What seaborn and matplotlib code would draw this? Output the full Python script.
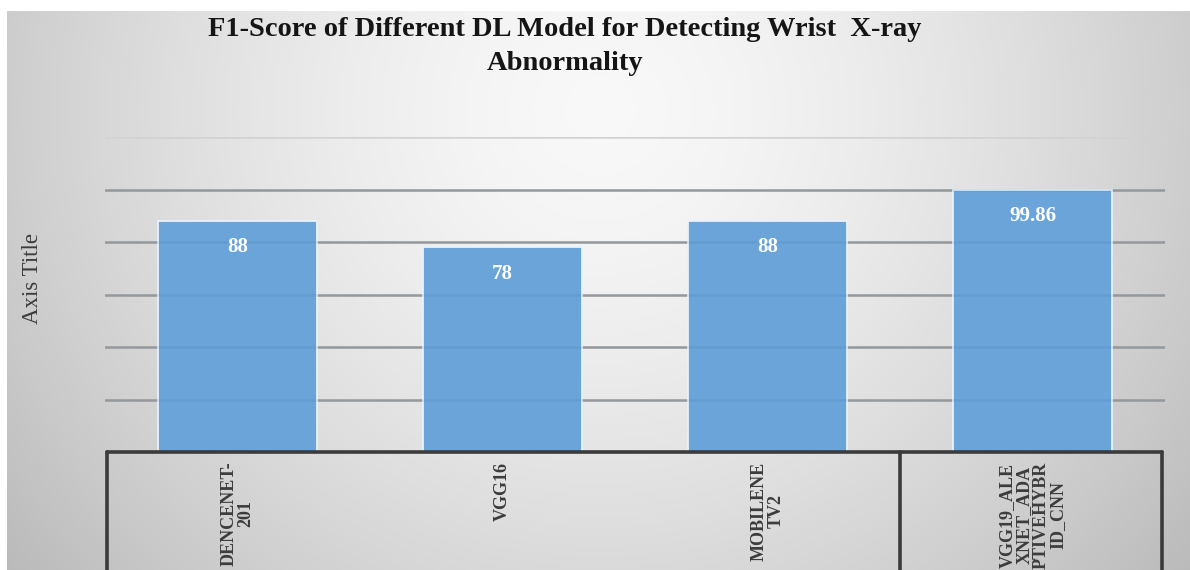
import numpy as np
import matplotlib
matplotlib.use("Agg")
import matplotlib.pyplot as plt
from matplotlib.lines import Line2D
import seaborn as sns

models = ["DENCENET-\n201", "VGG16", "MOBILENE\nTV2", "VGG19_ALE\nXNET_ADA\nPTIVEHYBR\nID_CNN"]
f1_scores = [88, 78, 88, 99.86]
value_labels = ["88", "78", "88", "99.86"]
y_ticks = [0, 20, 40, 60, 80, 100, 120]

sns.set_theme(style="white")
plt.rcParams["font.family"] = ["Liberation Serif", "DejaVu Serif"]

W, H = 1190, 570
fig = plt.figure(figsize=(W / 100, H / 100), dpi=100, facecolor="white")

# soft grey backdrop, lighter towards the upper middle
bg = fig.add_axes([7 / W, 0, 1 - 7 / W, (H - 11) / H], zorder=-5)
px = np.arange(7, W)
py = np.arange(11, H)
X, Y = np.meshgrid(px, py)
r = np.sqrt(((X - 600) / 640.0) ** 2 + ((Y - 110) / 620.0) ** 2)
shade = 0.975 - 0.19 * np.clip(r, 0, 1.2) ** 1.5
bg.imshow(np.dstack([shade] * 3), aspect="auto", extent=[0, 1, 0, 1], origin="upper")
bg.set_axis_off()

left, right = 105 / W, 1165 / W
bottom, top = (H - 452) / H, (H - 137) / H
ax = fig.add_axes([left, bottom, right - left, top - bottom])
ax.set_facecolor("none")

sns.barplot(x=models, y=f1_scores, color="#6aa4d9", saturation=1, width=0.6, ax=ax,
            edgecolor="#e8f2fc", linewidth=1.3, zorder=3)

ax.set_ylim(0, 120)
ax.set_yticks(y_ticks)
ax.set_yticklabels([])
for t in y_ticks[1:]:
    ax.axhline(t, color="#d2d2d2" if t == 120 else "#a0a0a0", lw=1.8, zorder=0)
    # faint trace of the gridline showing through the bars
    ax.axhline(t, color="#3a5f85", lw=1.8, alpha=0.10 if t < 120 else 0, zorder=4)
ax.tick_params(axis="both", length=0)
for s in ax.spines.values():
    s.set_visible(False)
ax.set_xlim(-0.5, len(models) - 0.5)
ax.set_xlabel("")
ax.set_ylabel("")

for i, (v, lab) in enumerate(zip(f1_scores, value_labels)):
    ax.annotate(lab, (i, v), xytext=(0, -19), textcoords="offset points",
                ha="center", va="center", color="white", fontsize=15,
                fontweight="bold", zorder=5)

ax.set_xticks(range(len(models)))
ax.set_xticklabels(models, rotation=90, ha="center", va="top",
                   multialignment="center", fontsize=13, fontweight="bold",
                   color="#3c3c3c", linespacing=1.0)
ax.tick_params(axis="x", pad=7)

# category table frame under the plot
frame_col = "#3b3b3b"
y_top = (H - 452) / H
xl, xr, xd = 107 / W, 1162 / W, 900 / W
fig.add_artist(Line2D([xl, xr], [y_top, y_top], color=frame_col, lw=2.6))
fig.add_artist(Line2D([xl, xl], [y_top, -0.05], color=frame_col, lw=2.6))
fig.add_artist(Line2D([xr, xr], [y_top, -0.05], color=frame_col, lw=2.6))
fig.add_artist(Line2D([xd, xd], [y_top, -0.05], color=frame_col, lw=2.6))

fig.text(565 / W, (H - 17) / H,
         "F1-Score of Different DL Model for Detecting Wrist  X-ray\nAbnormality",
         ha="center", va="top", fontsize=20.5, fontweight="bold", color="#151515",
         linespacing=1.45)

fig.text(33 / W, (H - 278) / H, "Axis Title", rotation=90, ha="center",
         va="center", fontsize=16.5, color="#3c3c3c")

fig.savefig("out.png", dpi=100, facecolor="white")
